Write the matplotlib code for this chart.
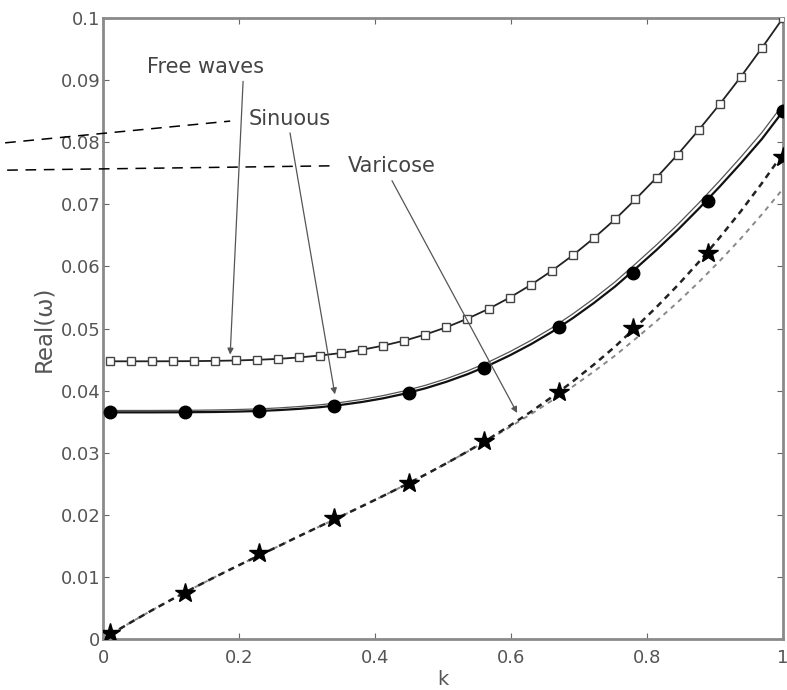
import numpy as np
import matplotlib
matplotlib.use("Agg")
import matplotlib.pyplot as plt
from matplotlib.lines import Line2D

plt.rcParams['font.family'] = ['DejaVu Sans']

# wavenumber grid for the curves
k_curve = [0.010, 0.041, 0.072, 0.103, 0.134, 0.165, 0.196, 0.227, 0.258, 0.288,
           0.319, 0.350, 0.381, 0.412, 0.443, 0.474, 0.505, 0.536, 0.567, 0.598,
           0.629, 0.660, 0.691, 0.722, 0.753, 0.783, 0.814, 0.845, 0.876, 0.907,
           0.938, 0.969, 1.000]

free_waves = [0.04472, 0.04472, 0.04472, 0.04473, 0.04475, 0.04479, 0.04485, 0.04496,
              0.04511, 0.04534, 0.04565, 0.04605, 0.04658, 0.04724, 0.04804, 0.04903,
              0.05020, 0.05159, 0.05316, 0.05497, 0.05701, 0.05929, 0.06180, 0.06457,
              0.06757, 0.07080, 0.07429, 0.07800, 0.08196, 0.08613, 0.09053, 0.09518,
              0.10000]

sinuous = [0.03650, 0.03650, 0.03650, 0.03651, 0.03653, 0.03656, 0.03662, 0.03671,
           0.03686, 0.03706, 0.03733, 0.03770, 0.03817, 0.03876, 0.03949, 0.04037,
           0.04142, 0.04264, 0.04405, 0.04566, 0.04745, 0.04944, 0.05168, 0.05412,
           0.05676, 0.05962, 0.06265, 0.06586, 0.06928, 0.07286, 0.07660, 0.08052,
           0.08498]

sinuous_2 = [0.03680, 0.03680, 0.03680, 0.03682, 0.03684, 0.03688, 0.03695, 0.03705,
             0.03721, 0.03743, 0.03771, 0.03810, 0.03859, 0.03920, 0.03995, 0.04085,
             0.04192, 0.04317, 0.04461, 0.04625, 0.04807, 0.05009, 0.05236, 0.05484,
             0.05751, 0.06041, 0.06348, 0.06673, 0.07019, 0.07382, 0.07760, 0.08157,
             0.08608]

varicose = [0.00067, 0.00269, 0.00463, 0.00648, 0.00827, 0.01000, 0.01168, 0.01332,
            0.01494, 0.01655, 0.01815, 0.01976, 0.02139, 0.02304, 0.02473, 0.02647,
            0.02829, 0.03020, 0.03221, 0.03433, 0.03657, 0.03896, 0.04149, 0.04420,
            0.04708, 0.05016, 0.05345, 0.05694, 0.06068, 0.06466, 0.06888, 0.07340,
            0.07819]

varicose_2 = [0.00067, 0.00269, 0.00463, 0.00648, 0.00827, 0.01000, 0.01168, 0.01332,
              0.01494, 0.01655, 0.01815, 0.01976, 0.02139, 0.02304, 0.02473, 0.02647,
              0.02829, 0.03017, 0.03211, 0.03411, 0.03619, 0.03838, 0.04066, 0.04308,
              0.04563, 0.04833, 0.05120, 0.05422, 0.05745, 0.06088, 0.06450, 0.06838,
              0.07249]

# marker points
k_pts = [0.01, 0.12, 0.23, 0.34, 0.45, 0.56, 0.67, 0.78, 0.89, 1.0]
sinuous_pts = [0.0365, 0.0366, 0.0367, 0.0375, 0.0396, 0.0437, 0.0503, 0.0590, 0.0706, 0.0850]
varicose_pts = [0.0010, 0.0074, 0.0138, 0.0195, 0.0251, 0.0319, 0.0398, 0.0501, 0.0621, 0.0776]

fig = plt.figure(figsize=(7.87, 6.90), dpi=100)
ax = fig.add_axes([0.1309, 0.0739, 0.8640, 0.9000])

# free waves
ax.plot(k_curve, free_waves, color='#222222', lw=1.3, marker='s', ms=5.5,
        mfc='white', mec='#444444', mew=1.0, zorder=3)

# sinuous: double solid line with filled circles
ax.plot(k_curve, sinuous_2, color='#555555', lw=0.9, zorder=2)
ax.plot(k_curve, sinuous, color='#111111', lw=1.6, zorder=2)
ax.plot(k_pts, sinuous_pts, ls='none', marker='o', ms=9, color='black', zorder=4)

# varicose: dashed lines with stars
ax.plot(k_curve, varicose_2, color='#888888', lw=1.4, ls=(0, (2.5, 2.5)), zorder=2)
ax.plot(k_curve, varicose, color='#222222', lw=1.8, ls=(0, (2.5, 2.0)), zorder=2)
ax.plot(k_pts, varicose_pts, ls='none', marker='*', ms=15, color='black', zorder=4)

ax.set_xlim(0, 1)
ax.set_ylim(0, 0.1)
ax.set_xticks([0, 0.2, 0.4, 0.6, 0.8, 1])
ax.set_xticklabels(['0', '0.2', '0.4', '0.6', '0.8', '1'])
ax.set_yticks([0, 0.01, 0.02, 0.03, 0.04, 0.05, 0.06, 0.07, 0.08, 0.09, 0.1])
ax.set_yticklabels(['0', '0.01', '0.02', '0.03', '0.04', '0.05', '0.06', '0.07',
                    '0.08', '0.09', '0.1'])
ax.tick_params(direction='in', length=4, width=0.8, color='#666666',
               labelsize=13, labelcolor='#555555', top=True, right=True)
ax.tick_params(axis='x', pad=7)
ax.tick_params(axis='y', pad=2)
for s in ax.spines.values():
    s.set_color('#8a8a8a')
    s.set_linewidth(2.0)

ax.set_xlabel('k', fontsize=14, color='#555555', labelpad=2)
ax.set_ylabel('Real(ω)', fontsize=16.5, color='#555555', labelpad=4)

arrow = dict(arrowstyle='-|>', color='#555555', lw=0.9, mutation_scale=9,
             shrinkA=0, shrinkB=0)
ax.annotate('Free waves', xy=(0.187, 0.0458), xytext=(0.150, 0.0921),
            ha='center', va='center', fontsize=15, color='#444444')
ax.annotate('', xy=(0.187, 0.0458), xytext=(0.206, 0.0898), arrowprops=arrow)
ax.annotate('Sinuous', xy=(0.341, 0.0394), xytext=(0.275, 0.0838),
            ha='center', va='center', fontsize=15, color='#444444')
ax.annotate('', xy=(0.341, 0.0394), xytext=(0.275, 0.0815), arrowprops=arrow)
ax.annotate('Varicose', xy=(0.609, 0.0364), xytext=(0.424, 0.0762),
            ha='center', va='center', fontsize=15, color='#444444')
ax.annotate('', xy=(0.609, 0.0364), xytext=(0.425, 0.0738), arrowprops=arrow)

# leader lines coming in from the left edge
ax.add_line(Line2D([-0.144, 0.187], [0.0799, 0.0834], color='black', lw=1.1,
                   ls=(0, (7, 5)), clip_on=False, zorder=5))
ax.add_line(Line2D([-0.141, 0.338], [0.0755, 0.0762], color='black', lw=1.1,
                   ls=(0, (7, 5)), clip_on=False, zorder=5))

fig.savefig('out.png', dpi=100)
